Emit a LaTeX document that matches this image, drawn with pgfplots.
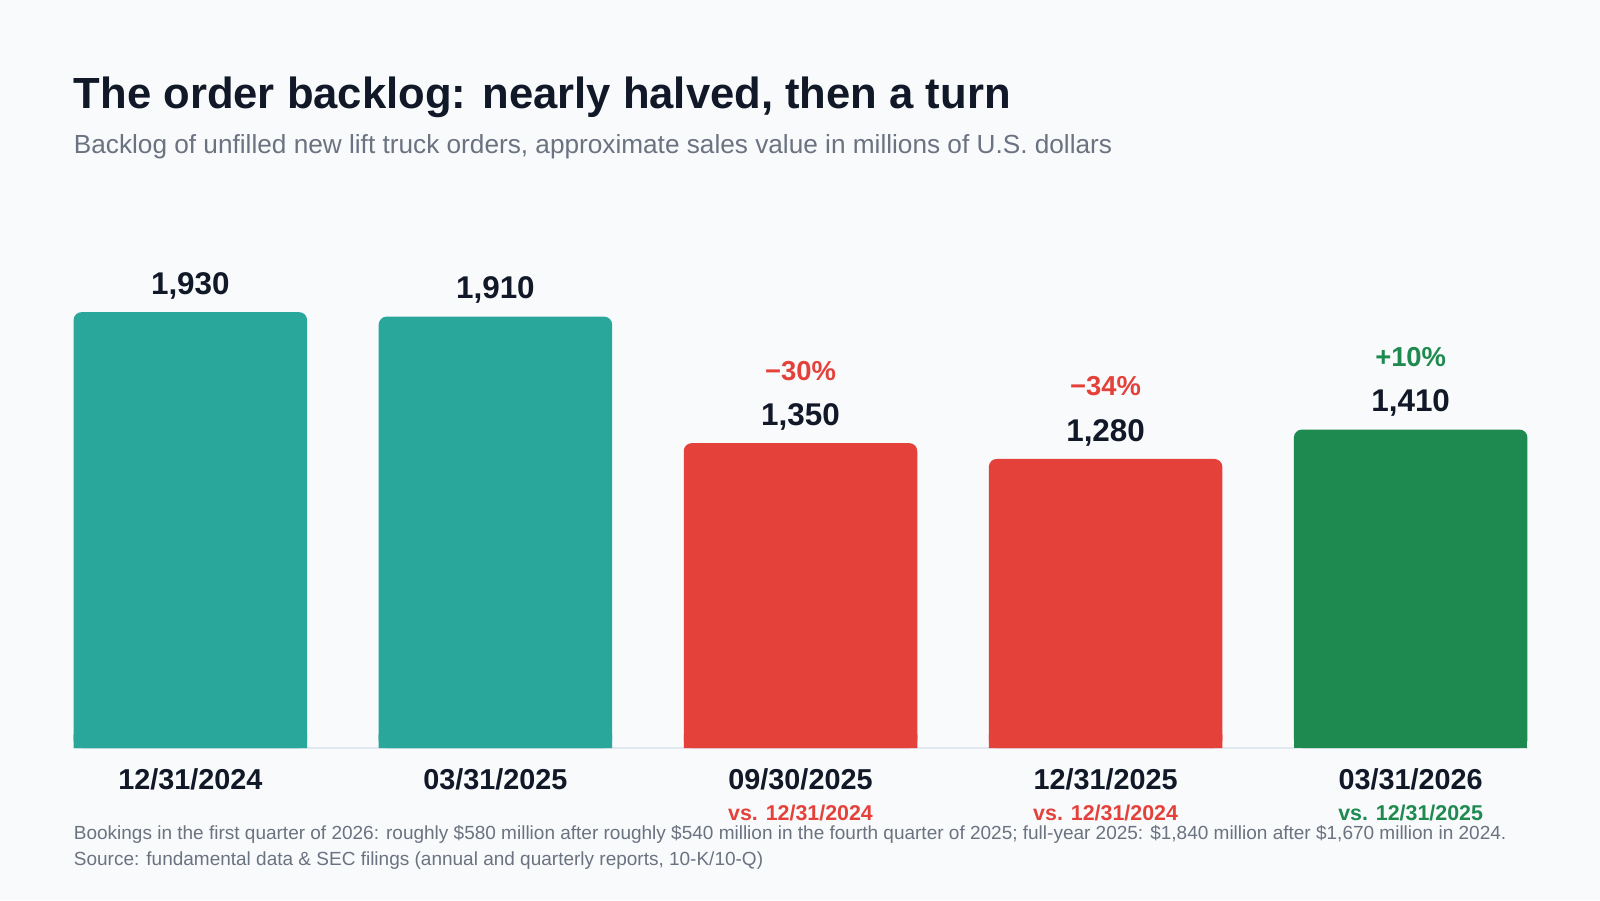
\documentclass[border=0pt]{standalone}
\usepackage{fontspec}
\setmainfont{Liberation Sans}
\usepackage{pgfplots}
\pgfplotsset{compat=1.18}
\definecolor{bg}{HTML}{F8FAFC}
\definecolor{ink}{HTML}{111827}
\definecolor{sub}{HTML}{6B7280}
\definecolor{tealbar}{HTML}{2AA79B}
\definecolor{redbar}{HTML}{E5413B}
\definecolor{greenbar}{HTML}{1E8A4F}
\definecolor{baseline}{HTML}{E2E8F0}
\begin{document}
\begin{tikzpicture}[x=1pt,y=1pt]
\fill[bg] (0,0) rectangle (800,450);
\useasboundingbox (0,0) rectangle (800,450);
\node[anchor=base west, inner sep=0pt, font=\fontsize{21.8}{26}\selectfont\bfseries, text=ink] at (36.75,395.5) {The order backlog: nearly halved, then a turn};
\node[anchor=base west, inner sep=0pt, font=\fontsize{13.1}{16}\selectfont, text=sub] at (36.75,373) {Backlog of unfilled new lift truck orders, approximate sales value in millions of U.S. dollars};
\node[anchor=base west, inner sep=0pt, font=\fontsize{9.5}{11}\selectfont, text=sub] at (36.75,30.5) {Bookings in the first quarter of 2026: roughly \$580 million after roughly \$540 million in the fourth quarter of 2025; full-year 2025: \$1,840 million after \$1,670 million in 2024.};
\node[anchor=base west, inner sep=0pt, font=\fontsize{9.5}{11}\selectfont, text=sub] at (36.75,17.5) {Source: fundamental data \& SEC filings (annual and quarterly reports, 10-K/10-Q)};
\begin{axis}[
  at={(36.75pt,76pt)}, anchor=south west,
  scale only axis, width=727pt, height=271pt,
  xmin=-0.383, xmax=4.383, ymin=0, ymax=2400,
  enlargelimits=false, clip=false,
  ybar, bar width=116.75pt,
  axis y line=none, axis x line*=bottom,
  x axis line style={draw=baseline, line width=0.8pt},
  major tick length=0pt,
  xtick={0,1,2,3,4},
  xticklabels={12/31/2024,03/31/2025,09/30/2025,12/31/2025,03/31/2026},
  xticklabel style={anchor=base, yshift=-20.5pt, font=\fontsize{14.4}{17}\selectfont\bfseries, text=ink},
  extra x ticks={2,3,4},
  extra x tick labels={\textcolor{redbar}{vs. 12/31/2024},\textcolor{redbar}{vs. 12/31/2024},\textcolor{greenbar}{vs. 12/31/2025}},
  extra x tick style={xticklabel style={yshift=-15.5pt, font=\fontsize{10.7}{13}\selectfont\bfseries}},
  /pgf/number format/.cd, 1000 sep={,}, assume math mode=true,
  /pgfplots/.cd,
  valstyle/.style={nodes near coords, nodes near coords={\pgfmathprintnumber{\pgfplotspointmeta}},
    every node near coord/.append style={anchor=base, yshift=8.85pt, font=\fontsize{15.7}{18}\selectfont\bfseries, text=ink}},
  pctstyle/.style={point meta=explicit symbolic, nodes near coords,
    every node near coord/.append style={anchor=base, yshift=31.5pt, font=\fontsize{13.7}{16}\selectfont\bfseries, text=#1}},
]
% bars with rounded top
\addplot[fill=tealbar, draw=none, bar shift=0pt, rounded corners=4pt] coordinates {(0,1930) (1,1910)};
\addplot[fill=redbar, draw=none, bar shift=0pt, rounded corners=4pt] coordinates {(2,1350) (3,1280)};
\addplot[fill=greenbar, draw=none, bar shift=0pt, rounded corners=4pt] coordinates {(4,1410)};
% square bottoms
\addplot[fill=tealbar, draw=none, bar shift=0pt] coordinates {(0,60) (1,60)};
\addplot[fill=redbar, draw=none, bar shift=0pt] coordinates {(2,60) (3,60)};
\addplot[fill=greenbar, draw=none, bar shift=0pt] coordinates {(4,60)};
% value labels
\addplot[draw=none, fill=none, bar shift=0pt, valstyle] coordinates {(0,1930) (1,1910) (2,1350) (3,1280) (4,1410)};
% percentage labels
\addplot[draw=none, fill=none, bar shift=0pt, pctstyle=redbar] coordinates {(2,1350) [−30\%] (3,1280) [−34\%]};
\addplot[draw=none, fill=none, bar shift=0pt, pctstyle=greenbar] coordinates {(4,1410) [+10\%]};
\end{axis}
\end{tikzpicture}
\end{document}
